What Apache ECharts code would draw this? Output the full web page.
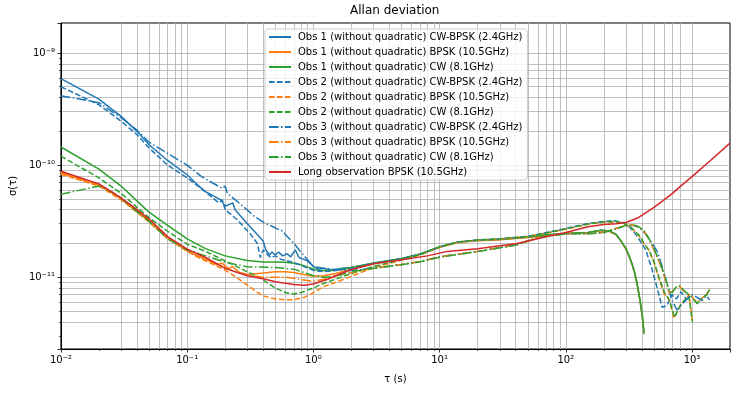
<!DOCTYPE html>
<html><head><meta charset="utf-8">
<script src="https://cdn.jsdelivr.net/npm/echarts@6/dist/echarts.min.js"></script>
<style>html,body{margin:0;padding:0;background:#fff}#c{width:737px;height:394px}</style>
</head><body><div id="c"></div>
<script>
// ---- data (tau in s, Allan deviation) ----
const seriesNames = [
  'Obs 1 (without quadratic) CW-BPSK (2.4GHz)',
  'Obs 1 (without quadratic) BPSK (10.5GHz)',
  'Obs 1 (without quadratic) CW (8.1GHz)',
  'Obs 2 (without quadratic) CW-BPSK (2.4GHz)',
  'Obs 2 (without quadratic) BPSK (10.5GHz)',
  'Obs 2 (without quadratic) CW (8.1GHz)',
  'Obs 3 (without quadratic) CW-BPSK (2.4GHz)',
  'Obs 3 (without quadratic) BPSK (10.5GHz)',
  'Obs 3 (without quadratic) CW (8.1GHz)',
  'Long observation BPSK (10.5GHz)'
];
const obs1Cwbpsk = [[0.01,5.9e-10],[0.02,3.88e-10],[0.03,2.72e-10],[0.04,2.0e-10],[0.05,1.52e-10],[0.07,1.1e-10],[0.1,8.2e-11],[0.12,6.7e-11],[0.14,5.8e-11],[0.185,4.9e-11],[0.2,4.3e-11],[0.23,4.6e-11],[0.24,4.0e-11],[0.3,3.0e-11],[0.36,2.4e-11],[0.4,2.1e-11],[0.42,1.75e-11],[0.45,1.58e-11],[0.47,1.68e-11],[0.5,1.58e-11],[0.53,1.68e-11],[0.57,1.55e-11],[0.62,1.62e-11],[0.66,1.52e-11],[0.72,1.75e-11],[0.77,1.5e-11],[0.9,1.4e-11],[1.0,1.25e-11],[1.1,1.18e-11],[1.2,1.2e-11],[1.4,1.16e-11],[1.7,1.2e-11],[2,1.22e-11],[3,1.33e-11],[5,1.46e-11],[7,1.6e-11],[10,1.86e-11],[14,2.05e-11],[20,2.13e-11],[30,2.17e-11],[50,2.27e-11],[70,2.38e-11],[100,2.45e-11],[150,2.5e-11],[190,2.62e-11],[220,2.58e-11],[250,2.4e-11],[272,2.12e-11],[300,1.78e-11],[320,1.5e-11],[336,1.29e-11],[350,1.1e-11],[364,9.1e-12],[376,7.5e-12],[386,6.3e-12],[396,5.2e-12],[404,4.5e-12],[410,3.8e-12],[415,3.3e-12]];
const obs1Bpsk = [[0.01,8.5e-11],[0.02,6.6e-11],[0.025,5.8e-11],[0.03,5.0e-11],[0.04,3.85e-11],[0.05,3.15e-11],[0.06,2.6e-11],[0.07,2.25e-11],[0.085,1.95e-11],[0.1,1.72e-11],[0.12,1.55e-11],[0.15,1.4e-11],[0.17,1.3e-11],[0.19,1.33e-11],[0.21,1.2e-11],[0.23,1.24e-11],[0.26,1.1e-11],[0.3,1.06e-11],[0.4,1.09e-11],[0.5,1.12e-11],[0.6,1.12e-11],[0.7,1.1e-11],[0.8,1.07e-11],[1.0,1.02e-11],[1.2,1.03e-11],[1.5,1.08e-11],[2,1.18e-11],[3,1.32e-11],[5,1.45e-11],[7,1.6e-11],[10,1.85e-11],[14,2.04e-11],[20,2.12e-11],[30,2.16e-11],[50,2.26e-11],[70,2.37e-11],[100,2.44e-11],[150,2.5e-11],[190,2.61e-11],[220,2.57e-11],[250,2.4e-11],[272,2.12e-11],[300,1.78e-11],[320,1.5e-11],[336,1.29e-11],[350,1.1e-11],[364,9.1e-12],[376,7.5e-12],[386,6.3e-12],[396,5.2e-12],[404,4.5e-12],[410,3.8e-12],[415,3.2e-12]];
const obs1Cw = [[0.01,1.45e-10],[0.02,9.2e-11],[0.03,6.5e-11],[0.04,4.8e-11],[0.05,3.8e-11],[0.07,2.9e-11],[0.1,2.2e-11],[0.14,1.8e-11],[0.2,1.55e-11],[0.3,1.41e-11],[0.4,1.37e-11],[0.5,1.37e-11],[0.6,1.36e-11],[0.7,1.33e-11],[0.8,1.29e-11],[0.9,1.23e-11],[1.1,1.15e-11],[1.4,1.15e-11],[2,1.22e-11],[3,1.34e-11],[5,1.47e-11],[7,1.61e-11],[10,1.87e-11],[14,2.06e-11],[20,2.14e-11],[30,2.18e-11],[50,2.28e-11],[70,2.39e-11],[100,2.46e-11],[150,2.51e-11],[190,2.63e-11],[220,2.6e-11],[250,2.42e-11],[272,2.14e-11],[300,1.8e-11],[320,1.52e-11],[336,1.3e-11],[350,1.12e-11],[364,9.2e-12],[376,7.6e-12],[386,6.4e-12],[396,5.3e-12],[404,4.5e-12],[410,3.8e-12],[418,3.1e-12]];
const obs2Cwbpsk = [[0.01,5.0e-10],[0.02,3.45e-10],[0.03,2.46e-10],[0.04,1.87e-10],[0.05,1.42e-10],[0.07,1.0e-10],[0.1,7.7e-11],[0.12,6.6e-11],[0.15,5.4e-11],[0.178,4.6e-11],[0.19,4.9e-11],[0.2,4.0e-11],[0.25,3.25e-11],[0.32,2.4e-11],[0.36,2.0e-11],[0.38,1.5e-11],[0.4,1.75e-11],[0.43,1.6e-11],[0.46,1.5e-11],[0.5,1.55e-11],[0.55,1.45e-11],[0.62,1.4e-11],[0.7,1.35e-11],[0.84,1.25e-11],[1.0,1.15e-11],[1.2,1.12e-11],[1.5,1.15e-11],[2,1.2e-11],[3,1.33e-11],[5,1.46e-11],[7,1.6e-11],[10,1.86e-11],[14,2.06e-11],[20,2.15e-11],[30,2.2e-11],[50,2.32e-11],[70,2.5e-11],[100,2.72e-11],[150,3.02e-11],[200,3.15e-11],[240,3.2e-11],[280,3.08e-11],[320,2.8e-11],[360,2.4e-11],[400,2.0e-11],[430,1.75e-11],[480,1.2e-11],[530,8.0e-12],[580,5.4e-12],[635,5.6e-12],[690,7.0e-12],[750,6.4e-12],[820,7.4e-12],[900,6.4e-12],[1010,6.8e-12]];
const obs2Bpsk = [[0.01,8.3e-11],[0.02,6.5e-11],[0.03,4.9e-11],[0.04,3.8e-11],[0.05,3.1e-11],[0.07,2.2e-11],[0.1,1.7e-11],[0.12,1.52e-11],[0.15,1.35e-11],[0.2,1.16e-11],[0.25,9.8e-12],[0.3,8.5e-12],[0.35,7.5e-12],[0.4,6.8e-12],[0.5,6.4e-12],[0.6,6.3e-12],[0.7,6.3e-12],[0.85,6.6e-12],[1.0,7.3e-12],[1.2,8.2e-12],[1.5,9.0e-12],[2,1.02e-11],[3,1.22e-11],[5,1.42e-11],[7,1.58e-11],[10,1.85e-11],[14,2.05e-11],[20,2.14e-11],[30,2.19e-11],[50,2.3e-11],[70,2.47e-11],[100,2.68e-11],[150,2.97e-11],[200,3.1e-11],[250,3.12e-11],[290,3.0e-11],[330,2.75e-11],[380,2.35e-11],[420,1.95e-11],[455,1.75e-11],[500,1.35e-11],[550,9.5e-12],[600,7.2e-12],[660,6.3e-12],[720,4.3e-12],[810,5.65e-12],[950,7.0e-12],[1010,3.9e-12]];
const obs2Cw = [[0.01,1.2e-10],[0.02,7.7e-11],[0.03,5.6e-11],[0.04,4.2e-11],[0.05,3.4e-11],[0.07,2.57e-11],[0.1,1.97e-11],[0.14,1.7e-11],[0.2,1.4e-11],[0.3,1.12e-11],[0.4,9.45e-12],[0.5,8.0e-12],[0.6,7.3e-12],[0.7,7.1e-12],[0.8,7.3e-12],[1.0,8.0e-12],[1.14,8.6e-12],[1.5,9.6e-12],[2,1.08e-11],[3,1.25e-11],[5,1.43e-11],[7,1.59e-11],[10,1.86e-11],[14,2.06e-11],[20,2.15e-11],[30,2.2e-11],[50,2.31e-11],[70,2.48e-11],[100,2.7e-11],[150,2.98e-11],[200,3.12e-11],[250,3.12e-11],[290,3.02e-11],[330,2.78e-11],[380,2.38e-11],[420,1.98e-11],[460,1.72e-11],[505,1.33e-11],[555,9.5e-12],[605,7.3e-12],[665,6.2e-12],[725,4.4e-12],[815,5.7e-12],[940,6.8e-12],[1010,4.0e-12]];
const obs3Cwbpsk = [[0.01,4.16e-10],[0.02,3.6e-10],[0.03,2.65e-10],[0.04,2.05e-10],[0.05,1.6e-10],[0.07,1.27e-10],[0.1,1.0e-10],[0.128,8.0e-11],[0.15,7.2e-11],[0.19,6.2e-11],[0.2,6.5e-11],[0.208,5.6e-11],[0.27,4.4e-11],[0.34,3.5e-11],[0.41,3.05e-11],[0.47,2.85e-11],[0.54,2.64e-11],[0.58,2.56e-11],[0.6,2.4e-11],[0.66,2.15e-11],[0.72,1.94e-11],[0.8,1.66e-11],[0.9,1.43e-11],[1.0,1.25e-11],[1.2,1.2e-11],[1.5,1.17e-11],[2,1.15e-11],[3,1.2e-11],[5,1.3e-11],[7,1.38e-11],[10,1.52e-11],[20,1.7e-11],[40,1.94e-11],[63,2.3e-11],[100,2.45e-11],[150,2.45e-11],[200,2.52e-11],[250,2.72e-11],[300,2.88e-11],[340,2.9e-11],[380,2.78e-11],[420,2.5e-11],[470,2.1e-11],[530,1.7e-11],[580,1.25e-11],[630,9.0e-12],[690,6.3e-12],[760,5.1e-12],[850,5.9e-12],[1000,7.0e-12],[1100,6.6e-12],[1200,6.2e-12],[1300,6.8e-12],[1380,6.3e-12]];
const obs3Bpsk = [[0.01,8.7e-11],[0.02,6.7e-11],[0.03,5.0e-11],[0.04,3.9e-11],[0.05,3.2e-11],[0.07,2.25e-11],[0.1,1.72e-11],[0.13,1.5e-11],[0.17,1.32e-11],[0.2,1.22e-11],[0.25,1.1e-11],[0.3,1.05e-11],[0.4,1.0e-11],[0.5,1.0e-11],[0.6,1.0e-11],[0.7,9.8e-12],[0.8,9.5e-12],[1.0,9.2e-12],[1.2,9.6e-12],[1.5,1.03e-11],[2,1.1e-11],[3,1.2e-11],[5,1.3e-11],[7,1.38e-11],[10,1.52e-11],[20,1.7e-11],[40,1.94e-11],[63,2.3e-11],[100,2.45e-11],[150,2.45e-11],[200,2.52e-11],[250,2.72e-11],[300,2.9e-11],[340,2.92e-11],[380,2.8e-11],[420,2.55e-11],[460,2.15e-11],[500,1.75e-11],[560,1.3e-11],[620,9.3e-12],[660,7.2e-12],[690,7.4e-12],[740,8.0e-12],[800,8.3e-12],[850,7.6e-12],[1000,6.7e-12],[1100,5.9e-12],[1200,6.5e-12],[1300,7.0e-12],[1380,7.9e-12]];
const obs3Cw = [[0.01,5.5e-11],[0.02,6.5e-11],[0.025,5.8e-11],[0.03,5.05e-11],[0.04,3.85e-11],[0.05,3.15e-11],[0.07,2.2e-11],[0.1,1.75e-11],[0.14,1.55e-11],[0.2,1.36e-11],[0.3,1.24e-11],[0.5,1.22e-11],[0.7,1.18e-11],[0.85,1.1e-11],[1.0,1.03e-11],[1.2,1.0e-11],[1.5,1.02e-11],[2,1.12e-11],[3,1.2e-11],[5,1.29e-11],[7,1.37e-11],[10,1.51e-11],[20,1.69e-11],[40,1.93e-11],[63,2.28e-11],[100,2.44e-11],[150,2.44e-11],[200,2.5e-11],[250,2.7e-11],[300,2.9e-11],[340,2.92e-11],[380,2.82e-11],[420,2.57e-11],[460,2.18e-11],[505,1.75e-11],[565,1.3e-11],[625,9.3e-12],[665,7.3e-12],[695,7.3e-12],[745,8.1e-12],[800,8.4e-12],[855,7.7e-12],[1000,6.6e-12],[1100,5.8e-12],[1200,6.6e-12],[1300,6.9e-12],[1380,7.8e-12]];
const longBpsk = [[0.01,8.8e-11],[0.02,6.8e-11],[0.03,5.1e-11],[0.04,4.0e-11],[0.05,3.3e-11],[0.07,2.3e-11],[0.1,1.78e-11],[0.14,1.5e-11],[0.2,1.2e-11],[0.3,1.03e-11],[0.4,9.7e-12],[0.5,9.1e-12],[0.7,8.6e-12],[0.85,8.5e-12],[1.0,8.7e-12],[1.3,9.6e-12],[1.66,1.08e-11],[2,1.17e-11],[3,1.32e-11],[5,1.43e-11],[8,1.55e-11],[11.5,1.7e-11],[20,1.79e-11],[41,2.0e-11],[70,2.3e-11],[100,2.5e-11],[150,2.82e-11],[200,2.95e-11],[250,3.0e-11],[300,3.08e-11],[370,3.37e-11],[420,3.7e-11],[500,4.2e-11],[600,4.9e-11],[700,5.6e-11],[800,6.4e-11],[1000,7.9e-11],[1400,1.1e-10],[2000,1.57e-10]];

const xTickValues = [0.01, 0.1, 1, 10, 100, 1000];
const xTickLabels = ['10\u207B\u00B2', '10\u207B\u00B9', '10\u2070', '10\u00B9', '10\u00B2', '10\u00B3'];
const yTickValues = [1e-11, 1e-10, 1e-9];
const yTickLabels = ['10\u207B\u00B9\u00B9', '10\u207B\u00B9\u2070', '10\u207B\u2079'];
const xMinorValues = [0.02,0.03,0.04,0.05,0.06,0.07,0.08,0.09,0.2,0.3,0.4,0.5,0.6,0.7,0.8,0.9,2,3,4,5,6,7,8,9,20,30,40,50,60,70,80,90,200,300,400,500,600,700,800,900];
const yMinorValues = [3e-12,4e-12,5e-12,6e-12,7e-12,8e-12,9e-12,2e-11,3e-11,4e-11,5e-11,6e-11,7e-11,8e-11,9e-11,2e-10,3e-10,4e-10,5e-10,6e-10,7e-10,8e-10,9e-10];
const xRange = [0.01, 2000];
const yRange = [2.29e-12, 1.85e-9];

// ---- styling ----
const seriesData = [obs1Cwbpsk, obs1Bpsk, obs1Cw, obs2Cwbpsk, obs2Bpsk, obs2Cw, obs3Cwbpsk, obs3Bpsk, obs3Cw, longBpsk];
const colors = ['#1f77b4','#ff7f0e','#2ca02c','#1f77b4','#ff7f0e','#2ca02c','#1f77b4','#ff7f0e','#2ca02c','#d62728'];
const DASHED = [5.55, 2.4];
const DASHDOT = [9.6, 2.4, 1.5, 2.4];
const lineTypes = ['solid','solid','solid',DASHED,DASHED,DASHED,DASHDOT,DASHDOT,DASHDOT,'solid'];
const FONT = 'DejaVu Sans';
const GRID = '#b0b0b0';

function labelFmt(values, labels) {
  return function (v) {
    for (let i = 0; i < values.length; i++) {
      if (Math.abs(v / values[i] - 1) < 1e-6) return labels[i];
    }
    return '';
  };
}

const chart = echarts.init(document.getElementById('c'), null, {renderer: 'canvas'});
const series = seriesData.map((d, i) => ({
  type: 'line', name: seriesNames[i], data: d,
  xAxisIndex: 0, yAxisIndex: 0,
  symbol: 'none', showSymbol: false, smooth: false,
  lineStyle: {color: colors[i], width: 1.5, type: lineTypes[i]},
  itemStyle: {color: colors[i]},
  emphasis: {disabled: true}, animation: false, z: 3
}));

chart.setOption({
  animation: false,
  textStyle: {fontFamily: FONT},
  title: {
    text: 'Allan deviation', left: 350, top: 5, padding: 0,
    textStyle: {fontFamily: FONT, fontSize: 12, fontWeight: 'normal', color: '#000'}
  },
  grid: {left: 60, right: 7, top: 23, bottom: 45, show: true, borderColor: '#000', borderWidth: 1, backgroundColor: 'transparent'},
  legend: {
    orient: 'vertical', left: 265, top: 29,
    itemWidth: 22, itemHeight: 10, itemGap: 5,
    padding: [3, 5, 3, 3],
    backgroundColor: 'rgba(255,255,255,0.8)', borderColor: '#cccccc', borderWidth: 1, borderRadius: 3,
    itemStyle: {opacity: 0},
    textStyle: {fontFamily: FONT, fontSize: 10, color: '#000', padding: [0, 0, 0, 2]},
    data: seriesNames, selectedMode: false, z: 10
  },
  xAxis: [{
    type: 'log', logBase: 10, min: xRange[0], max: xRange[1], position: 'bottom',
    name: '\u03C4 (s)', nameLocation: 'middle', nameGap: 25,
    nameTextStyle: {fontFamily: FONT, fontSize: 10, color: '#000'},
    axisLine: {show: true, onZero: false, lineStyle: {color: '#000', width: 1}},
    axisTick: {show: true, length: 3.5, lineStyle: {color: '#000', width: 0.8}},
    axisLabel: {show: true, margin: 6, fontFamily: FONT, fontSize: 10, color: '#000', formatter: labelFmt(xTickValues, xTickLabels)},
    splitLine: {show: true, showMinLine: false, showMaxLine: false, lineStyle: {color: GRID, width: 0.8}}
  }, {
    type: 'value', min: Math.log10(xRange[0]), max: Math.log10(xRange[1]), position: 'bottom',
    axisLine: {show: false, onZero: false}, axisLabel: {show: false},
    axisTick: {show: true, length: 2, lineStyle: {color: '#000', width: 0.6}, customValues: xMinorValues.map(v => Math.log10(v))},
    splitLine: {show: true, showMinLine: false, showMaxLine: false, lineStyle: {color: GRID, width: 0.8}}
  }],
  yAxis: [{
    type: 'log', logBase: 10, min: yRange[0], max: yRange[1], position: 'left',
    name: '\u03C3(\u03C4)', nameLocation: 'middle', nameGap: 41, nameRotate: 90,
    nameTextStyle: {fontFamily: FONT, fontSize: 10, color: '#000'},
    axisLine: {show: true, onZero: false, lineStyle: {color: '#000', width: 1}},
    axisTick: {show: true, length: 3.5, lineStyle: {color: '#000', width: 0.8}},
    axisLabel: {show: true, margin: 6, fontFamily: FONT, fontSize: 10, color: '#000', formatter: labelFmt(yTickValues, yTickLabels)},
    splitLine: {show: true, showMinLine: false, showMaxLine: false, lineStyle: {color: GRID, width: 0.8}}
  }, {
    type: 'value', min: Math.log10(yRange[0]), max: Math.log10(yRange[1]), position: 'left',
    axisLine: {show: false, onZero: false}, axisLabel: {show: false},
    axisTick: {show: true, length: 2, lineStyle: {color: '#000', width: 0.6}, customValues: yMinorValues.map(v => Math.log10(v))},
    splitLine: {show: true, showMinLine: false, showMaxLine: false, lineStyle: {color: GRID, width: 0.8}}
  }],
  series: series
});
</script></body></html>
